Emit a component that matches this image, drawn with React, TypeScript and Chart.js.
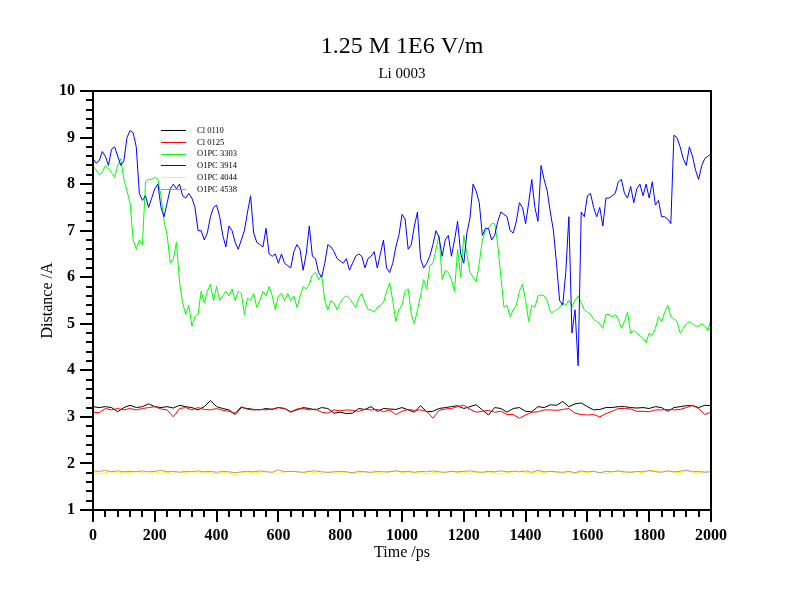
import React, { useEffect, useRef } from "react";
import { Chart, registerables } from "chart.js";

Chart.register(...registerables);

const TITLE = "1.25 M 1E6 V/m";
const SUBTITLE = "Li 0003";
const X_LABEL = "Time /ps";
const Y_LABEL = "Distance /A";

const X_MIN = 0;
const X_MAX = 2000;
const X_MAJOR = 200;
const X_MINOR = 40;
const Y_MIN = 1;
const Y_MAX = 10;
const Y_MAJOR = 1;
const Y_MINOR_PER_MAJOR = 5;

const FINE_STEP = 10; // ps between samples of the O1PC 3303 / 3914 series
const COARSE_STEP = 20; // ps between samples of the other series

const SERIES_NAMES = ["Cl 0110", "Cl 0125", "O1PC 3303", "O1PC 3914", "O1PC 4044", "O1PC 4538"];
const SERIES_COLORS = ["#000000", "#ff0000", "#00ff00", "#0000ff", "#ffff00", "#bc8f8f"];

// Cl 0110 (every 20 ps)
const cl0110 = [
  3.22, 3.2, 3.22, 3.2, 3.11, 3.2, 3.25, 3.2, 3.22, 3.28,
  3.22, 3.2, 3.22, 3.19, 3.25, 3.22, 3.2, 3.15, 3.22, 3.35,
  3.22, 3.18, 3.15, 3.05, 3.2, 3.18, 3.16, 3.15, 3.18, 3.16,
  3.2, 3.18, 3.11, 3.15, 3.2, 3.18, 3.15, 3.2, 3.18, 3.08,
  3.1, 3.07, 3.08, 3.18, 3.16, 3.22, 3.12, 3.18, 3.17, 3.16,
  3.2, 3.15, 3.1, 3.24, 3.11, 3.12, 3.18, 3.2, 3.22, 3.24,
  3.18, 3.22, 3.26, 3.15, 3.04, 3.2, 3.18, 3.1, 3.18, 3.2,
  3.12, 3.11, 3.22, 3.2, 3.26, 3.25, 3.33, 3.22, 3.28, 3.3,
  3.22, 3.15, 3.16, 3.2, 3.2, 3.22, 3.22, 3.2, 3.19, 3.2,
  3.18, 3.22, 3.2, 3.12, 3.2, 3.22, 3.24, 3.24, 3.2, 3.25,
  3.24,
];

// Cl 0125 (every 20 ps)
const cl0125 = [
  3.1, 3.09, 3.18, 3.15, 3.18, 3.15, 3.18, 3.15, 3.18, 3.2,
  3.22, 3.17, 3.15, 3.0, 3.18, 3.2, 3.15, 3.2, 3.16, 3.15,
  3.18, 3.14, 3.12, 3.08, 3.22, 3.16, 3.15, 3.16, 3.15, 3.17,
  3.2, 3.18, 3.1, 3.17, 3.18, 3.15, 3.17, 3.1, 3.08, 3.15,
  3.13, 3.15, 3.14, 3.12, 3.16, 3.15, 3.16, 3.11, 3.15, 3.05,
  3.12, 3.16, 3.14, 3.15, 3.12, 2.97, 3.14, 3.17, 3.18, 3.22,
  3.25, 3.16, 3.1, 3.12, 3.14, 3.1, 3.12, 3.05, 3.05, 2.97,
  3.04, 3.1, 3.11, 3.15, 3.15, 3.14, 3.16, 3.18, 3.08, 3.05,
  3.04, 3.05, 3.0, 3.07, 3.12, 3.18, 3.18, 3.17, 3.12, 3.12,
  3.11, 3.15, 3.15, 3.16, 3.15, 3.16, 3.2, 3.25, 3.18, 3.05,
  3.1,
];

// O1PC 3303 (every 10 ps)
const o1pc3303 = [
  8.4, 8.3, 8.2, 8.25, 8.4, 8.35, 8.25, 8.15, 8.4, 8.55,
  8.1, 7.85, 7.6, 6.8, 6.6, 6.8, 6.7, 8.05, 8.1, 8.1,
  8.15, 8.1, 7.75, 7.2, 6.9, 6.3, 6.4, 6.75, 5.9, 5.45,
  5.2, 5.4, 4.95, 5.15, 5.2, 5.7, 5.45, 5.7, 5.85, 5.5,
  5.8, 5.5, 5.6, 5.7, 5.6, 5.75, 5.5, 5.7, 5.65, 5.2,
  5.55, 5.5, 5.65, 5.35, 5.5, 5.7, 5.6, 5.8, 5.6, 5.3,
  5.6, 5.65, 5.5, 5.65, 5.5, 5.6, 5.35, 5.6, 5.8, 5.75,
  5.85, 6.05, 6.1, 5.95, 6.05, 5.5, 5.3, 5.5, 5.45, 5.3,
  5.45, 5.55, 5.6, 5.55, 5.45, 5.35, 5.55, 5.65, 5.45, 5.3,
  5.3, 5.25, 5.35, 5.4, 5.45, 5.7, 5.88, 5.5, 5.05, 5.3,
  5.4, 5.7, 5.75, 5.2, 5.0, 5.3, 5.6, 5.95, 5.75, 6.25,
  6.3, 6.6, 6.9, 5.95, 6.15, 6.1, 5.95, 5.7, 6.6, 6.0,
  6.9, 6.5, 6.1, 6.0, 5.9, 6.3, 6.8, 7.0, 7.05, 7.15,
  7.15, 6.7, 6.0, 5.35, 5.4, 5.15, 5.3, 5.4, 5.7, 5.85,
  5.5, 5.05, 5.4, 5.35, 5.6, 5.62, 5.6, 5.5, 5.25, 5.25,
  5.3, 5.35, 5.45, 5.4, 5.5, 5.37, 5.5, 5.6, 5.45, 5.3,
  5.25, 5.2, 5.1, 5.05, 5.0, 4.9, 5.2, 5.2, 5.15, 5.2,
  5.1, 4.9, 5.05, 5.25, 4.8, 4.85, 4.8, 4.75, 4.68, 4.6,
  4.8, 4.75, 4.9, 5.15, 5.05, 5.25, 5.4, 5.15, 5.1, 5.05,
  4.8, 4.9, 5.0, 5.05, 5.0, 4.95, 4.95, 5.0, 4.95, 4.85,
  5.1,
];

// O1PC 3914 (every 10 ps)
const o1pc3914 = [
  8.55, 8.45, 8.5, 8.7, 8.6, 8.4, 8.75, 8.8, 8.6, 8.4,
  8.5, 9.0, 9.15, 9.1, 8.8, 7.8, 7.65, 7.75, 7.5, 7.7,
  7.9, 8.0, 7.5, 7.3, 7.6, 7.9, 8.0, 7.9, 8.0, 7.75,
  7.7, 7.8, 7.7, 7.5, 7.0, 7.0, 6.8, 6.95, 7.3, 7.5,
  7.55, 7.3, 6.9, 6.65, 7.1, 7.0, 6.75, 6.6, 6.8, 7.0,
  7.4, 7.75, 6.95, 6.75, 6.7, 6.65, 7.05, 6.5, 6.45, 6.5,
  6.3, 6.5, 6.3, 6.25, 6.2, 6.55, 6.7, 6.6, 6.15, 6.5,
  7.1, 6.45, 6.4, 6.1, 6.0, 6.3, 6.7, 6.65, 6.55, 6.4,
  6.35, 6.3, 6.4, 6.15, 6.3, 6.45, 6.5, 6.45, 6.2, 6.4,
  6.45, 6.55, 6.2, 6.5, 6.8, 6.2, 6.1, 6.3, 6.65, 6.9,
  7.35, 7.25, 6.6, 6.7, 7.1, 7.4, 6.4, 6.2, 6.3, 6.45,
  6.7, 7.0, 6.85, 6.45, 6.8, 6.9, 6.45, 6.8, 7.2, 6.5,
  6.3, 6.95, 7.27, 8.0, 7.85, 7.6, 6.9, 7.05, 7.05, 6.8,
  6.9, 7.2, 7.4, 7.35, 7.3, 7.0, 6.95, 7.2, 7.6, 7.5,
  7.15, 7.6, 8.1, 7.5, 7.2, 8.4, 8.1, 7.85, 7.4, 7.0,
  6.3, 5.5, 5.4, 6.1, 7.3, 4.8, 5.3, 4.1, 7.4, 7.3,
  7.75, 7.8, 7.5, 7.3, 7.5, 7.1, 7.7, 7.7, 7.75, 7.8,
  8.05, 8.1, 7.8, 7.7, 7.95, 7.6, 7.9, 8.0, 7.75, 8.0,
  7.7, 8.05, 7.55, 7.65, 7.3, 7.3, 7.25, 7.15, 9.05, 9.0,
  8.8, 8.55, 8.4, 8.8, 8.6, 8.3, 8.1, 8.4, 8.55, 8.6,
  8.65,
];

// O1PC 4044 (every 20 ps)
const o1pc4044 = [
  1.82, 1.78, 1.8, 1.83, 1.79, 1.82, 1.8, 1.84, 1.8, 1.78,
  1.82, 1.79, 1.81, 1.78, 1.82, 1.8, 1.84, 1.79, 1.82, 1.8,
  1.77, 1.81, 1.79, 1.76, 1.8, 1.82, 1.79, 1.81, 1.83, 1.8,
  1.78, 1.82, 1.84, 1.82, 1.79, 1.82, 1.8, 1.78, 1.81, 1.79,
  1.8, 1.82, 1.78, 1.8, 1.83, 1.79, 1.81, 1.78, 1.82, 1.85,
  1.8, 1.82, 1.79, 1.81, 1.77, 1.8, 1.82, 1.79, 1.84, 1.8,
  1.82, 1.78, 1.81, 1.79, 1.82, 1.8, 1.77, 1.8, 1.82, 1.84,
  1.8, 1.79, 1.82, 1.8, 1.83, 1.81, 1.79, 1.8, 1.78, 1.82,
  1.8, 1.83, 1.8, 1.78, 1.82, 1.84, 1.8, 1.82, 1.79, 1.81,
  1.83, 1.85, 1.82, 1.84, 1.81, 1.8, 1.83, 1.82, 1.8, 1.82,
  1.83,
];

// O1PC 4538 (every 20 ps)
const o1pc4538 = [
  1.84, 1.83, 1.85, 1.82, 1.84, 1.82, 1.83, 1.82, 1.84, 1.82,
  1.83, 1.85, 1.82, 1.83, 1.81, 1.83, 1.82, 1.84, 1.82, 1.83,
  1.81, 1.83, 1.82, 1.8, 1.82, 1.83, 1.82, 1.84, 1.82, 1.81,
  1.86, 1.82, 1.83, 1.82, 1.81, 1.83, 1.84, 1.82, 1.81, 1.82,
  1.83, 1.82, 1.8, 1.83, 1.82, 1.81, 1.83, 1.82, 1.82, 1.84,
  1.82, 1.83, 1.81, 1.83, 1.82, 1.84, 1.82, 1.81, 1.83, 1.82,
  1.83, 1.84, 1.82, 1.81, 1.83, 1.82, 1.84, 1.82, 1.83, 1.82,
  1.84, 1.81, 1.85, 1.82, 1.83, 1.82, 1.81, 1.83, 1.8, 1.84,
  1.82, 1.83, 1.8, 1.83, 1.82, 1.84, 1.82, 1.81, 1.83, 1.82,
  1.85, 1.82, 1.81, 1.84, 1.82, 1.83, 1.86, 1.82, 1.83, 1.81,
  1.82,
];

const SERIES_VALUES = [cl0110, cl0125, o1pc3303, o1pc3914, o1pc4044, o1pc4538];
const SERIES_STEPS = [COARSE_STEP, COARSE_STEP, FINE_STEP, FINE_STEP, COARSE_STEP, COARSE_STEP];

const SERIF = '"Liberation Serif", "Times New Roman", serif';

const decorPlugin = {
  id: "decor",
  afterDraw(chart: any) {
    const ctx: CanvasRenderingContext2D = chart.ctx;
    const { left, right, top, bottom } = chart.chartArea;
    const xs = chart.scales.x;
    const ys = chart.scales.y;
    ctx.save();
    ctx.strokeStyle = "#000";
    ctx.fillStyle = "#000";

    // ticks (outside)
    ctx.lineWidth = 2;
    ctx.beginPath();
    for (let v = X_MIN; v <= X_MAX; v += X_MINOR) {
      const px = Math.round(xs.getPixelForValue(v));
      const major = v % X_MAJOR === 0;
      ctx.moveTo(px, bottom);
      ctx.lineTo(px, bottom + (major ? 12 : 7));
    }
    const nMinor = (Y_MAX - Y_MIN) * Y_MINOR_PER_MAJOR;
    for (let i = 0; i <= nMinor; i++) {
      const v = Y_MIN + i / Y_MINOR_PER_MAJOR;
      const py = Math.round(ys.getPixelForValue(v));
      const major = i % Y_MINOR_PER_MAJOR === 0;
      ctx.moveTo(left, py);
      ctx.lineTo(left - (major ? 13 : 7), py);
    }
    ctx.stroke();

    // frame
    ctx.lineWidth = 2;
    ctx.strokeRect(left, top, right - left, bottom - top);

    // titles
    const cx = (left + right) / 2;
    ctx.textAlign = "center";
    ctx.textBaseline = "alphabetic";
    ctx.font = `24px ${SERIF}`;
    ctx.fillText(TITLE, cx, 53);
    ctx.font = `15px ${SERIF}`;
    ctx.fillText(SUBTITLE, cx, 78);
    ctx.font = `16px ${SERIF}`;
    ctx.fillText(X_LABEL, cx, 557);
    ctx.save();
    ctx.translate(52, (top + bottom) / 2);
    ctx.rotate(-Math.PI / 2);
    ctx.fillText(Y_LABEL, 0, 0);
    ctx.restore();

    // legend
    ctx.font = `8.5px ${SERIF}`;
    ctx.textAlign = "left";
    ctx.textBaseline = "middle";
    chart.data.datasets.forEach((ds: any, i: number) => {
      const y = 130 + i * 11.8;
      ctx.strokeStyle = ds.borderColor;
      ctx.lineWidth = 1;
      ctx.beginPath();
      ctx.moveTo(161, Math.round(y) + 0.5);
      ctx.lineTo(186, Math.round(y) + 0.5);
      ctx.stroke();
      ctx.fillStyle = "#000";
      ctx.fillText(ds.label, 197, y + 0.5);
    });
    ctx.restore();
  },
};

export default function App() {
  const canvasRef = useRef<HTMLCanvasElement | null>(null);

  useEffect(() => {
    const canvas = canvasRef.current;
    if (!canvas) return;
    const datasets = SERIES_NAMES.map((name, i) => ({
      label: name,
      data: SERIES_VALUES[i].map((v, k) => ({ x: k * SERIES_STEPS[i], y: v })),
      borderColor: SERIES_COLORS[i],
      backgroundColor: SERIES_COLORS[i],
      borderWidth: 1,
      pointRadius: 0,
      tension: 0,
      fill: false,
      order: SERIES_NAMES.length - 1 - i,
    }));
    const chart = new Chart(canvas, {
      type: "line",
      data: { datasets },
      options: {
        animation: false,
        responsive: false,
        devicePixelRatio: 1,
        layout: { padding: { top: 91, right: 89, bottom: 0, left: 0 } },
        plugins: {
          legend: { display: false },
          title: { display: false },
          tooltip: { enabled: false },
        },
        scales: {
          x: {
            type: "linear",
            min: X_MIN,
            max: X_MAX,
            grid: { display: false, drawTicks: false },
            border: { display: false },
            ticks: {
              stepSize: X_MAJOR,
              color: "#000",
              padding: 16,
              maxRotation: 0,
              font: { family: SERIF, size: 16, weight: "bold" },
              callback: (v: any) => String(v),
            },
            afterFit: (s: any) => {
              s.height = 90;
            },
          },
          y: {
            type: "linear",
            min: Y_MIN,
            max: Y_MAX,
            grid: { display: false, drawTicks: false },
            border: { display: false },
            ticks: {
              stepSize: Y_MAJOR,
              color: "#000",
              padding: 18,
              font: { family: SERIF, size: 16, weight: "bold" },
              callback: (v: any) => String(v),
            },
            afterFit: (s: any) => {
              s.width = 93;
            },
          },
        },
      } as any,
      plugins: [decorPlugin],
    });
    return () => chart.destroy();
  }, []);

  return (
    <div style={{ position: "absolute", left: 0, top: 0, width: 800, height: 600, background: "#fff" }}>
      <canvas ref={canvasRef} width={800} height={600} />
    </div>
  );
}
